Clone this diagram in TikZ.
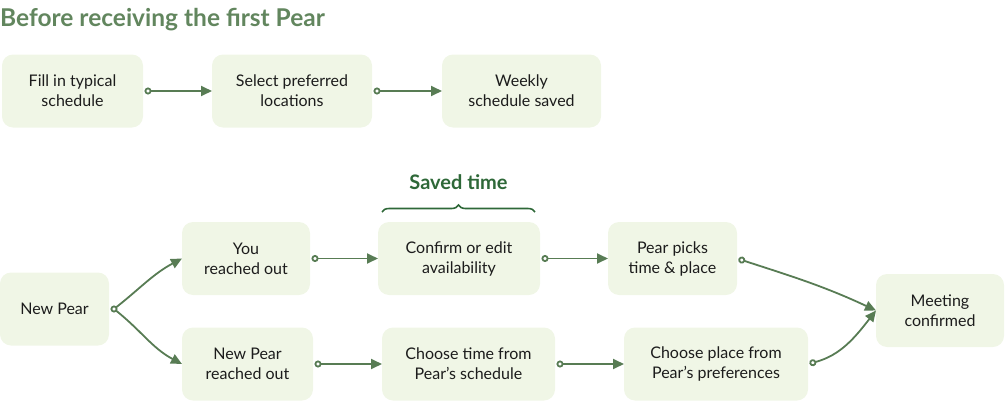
\documentclass[tikz,border=0pt]{standalone}
\usepackage{fontspec}
\setmainfont{Lato}
\usepackage{tikz}
\usetikzlibrary{arrows.meta,shapes,positioning,decorations.pathreplacing}
\usepackage{xcolor}
\definecolor{pgreen}{RGB}{88,124,84}
\definecolor{ptitle}{RGB}{98,134,94}
\definecolor{pdark}{RGB}{46,104,56}
\definecolor{pfill}{RGB}{240,246,230}
\definecolor{ptext}{RGB}{28,28,28}
\tikzstyle{flow} = [line width=1.8pt,{Circle[open,length=7pt,width=7pt,fill=white]}-{Triangle[length=11pt,width=10pt]},color=pgreen,shorten <=1.5pt]
\tikzstyle{branch} = [line width=1.8pt,-{Triangle[length=11pt,width=10pt]},color=pgreen]
\tikzstyle{stepbox} = [rectangle, rounded corners=11pt, minimum height=73pt, align=center, fill=pfill, text=ptext, font=\fontsize{16}{20}\selectfont, inner sep=0pt, outer sep=0pt]

\begin{document}
\begin{tikzpicture}[x=1pt,y=1pt]
\useasboundingbox (0,0) rectangle (1005,-402);
% Title
\node[anchor=base west, inner sep=0pt, text=ptitle, font=\fontsize{24.5}{28}\selectfont\bfseries] (title) at (0,-26) {Before receiving the first Pear};

% Top row
\node[stepbox, minimum width=141pt] at (72.5,-91) (fill) {Fill in typical\\schedule};
\node[stepbox, minimum width=160pt] at (292,-91) (select) {Select preferred\\locations};
\node[stepbox, minimum width=159pt] at (521.5,-91) (weekly) {Weekly\\schedule saved};

\draw[flow] (fill.east) -- (select.west);
\draw[flow] (select.east) -- (weekly.west);

% Bottom flow
\node[stepbox, minimum width=109pt] at (54.5,-309) (newpear) {New Pear};
\node[stepbox, minimum width=128pt] at (246,-258.5) (you) {You\\reached out};
\node[stepbox, minimum width=162pt] at (459,-258.5) (confirm) {Confirm or edit\\availability};
\node[stepbox, minimum width=129pt] at (672.5,-258.5) (picks) {Pear picks\\time \& place};
\node[stepbox, minimum width=131pt] at (247.5,-364) (theyreach) {New Pear\\reached out};
\node[stepbox, minimum width=173pt] at (468.5,-364) (choosetime) {Choose time from\\Pear’s schedule};
\node[stepbox, minimum width=184pt] at (716,-364) (chooseplace) {Choose place from\\Pear’s preferences};
\node[stepbox, minimum width=128pt] at (940,-310.5) (meeting) {Meeting\\confirmed};

% Saved time brace
\draw[pdark, line width=1.6pt, decorate, decoration={brace, amplitude=7pt}]
  ([xshift=4pt,yshift=10pt]confirm.north west) -- ([xshift=-5pt,yshift=10pt]confirm.north east)
  node[midway, above=22pt, text=pdark, font=\fontsize{20}{22}\selectfont\bfseries, inner sep=0pt] (saved) {Saved time};

% split point after New Pear
\coordinate (split) at ([xshift=5pt]newpear.east);
\draw[branch] (split) to[out=38,in=208] (you.west);
\draw[branch] (split) to[out=-38,in=152] (theyreach.west);
\draw[pgreen, line width=1.8pt, fill=white] (split) circle (2.6pt);

\draw[flow] (you.east) -- (confirm.west);
\draw[flow] (confirm.east) -- (picks.west);
\draw[flow] (theyreach.east) -- (choosetime.west);
\draw[flow] (choosetime.east) -- (chooseplace.west);
\draw[flow] (picks.east) to[out=-18,in=155] (meeting.west);
\draw[flow] (chooseplace.east) to[out=15,in=232] (meeting.west);
\end{tikzpicture}
\end{document}
